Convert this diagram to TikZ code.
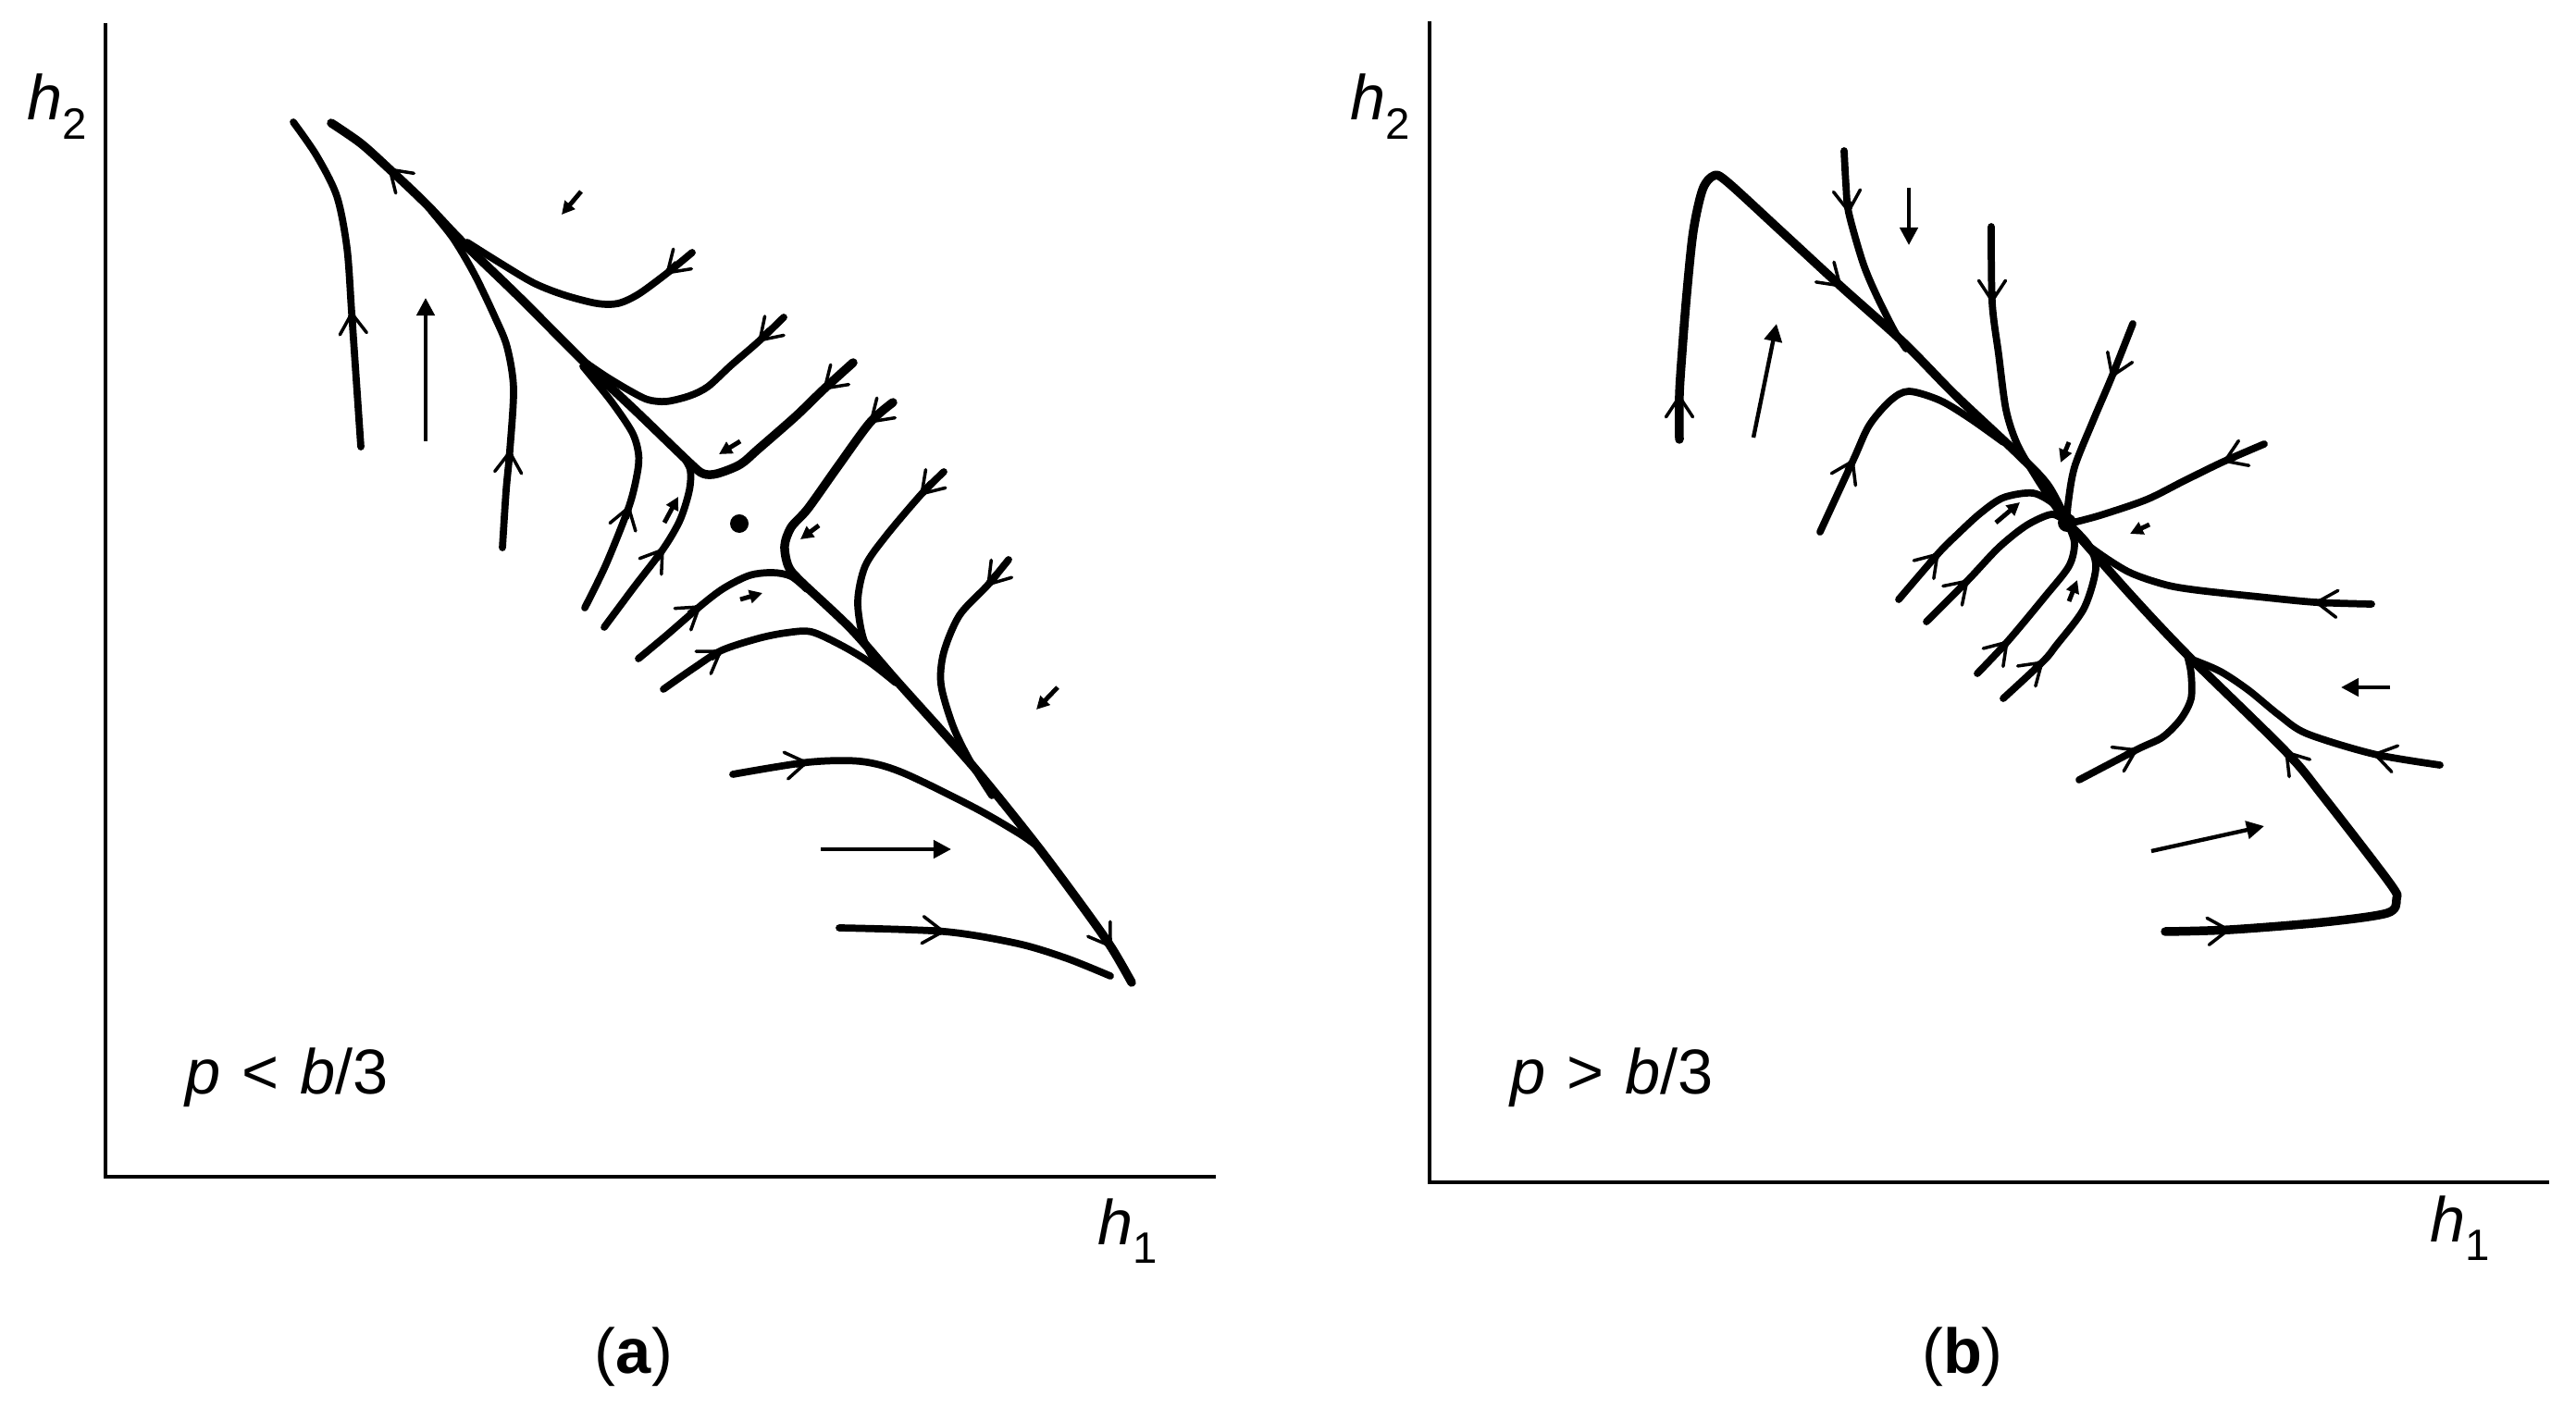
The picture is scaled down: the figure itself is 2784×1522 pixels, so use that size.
\documentclass[tikz,border=0pt]{standalone}
\usepackage{fontspec}
\setmainfont{Liberation Sans}
\usetikzlibrary{arrows.meta}
\newcommand{\lowsub}[1]{\raisebox{-0.3em}{\fontsize{13.5pt}{13.5pt}\selectfont #1}}
\begin{document}
\begin{tikzpicture}[x=0.01cm, y=-0.01cm,
  curve/.style={line width=2.2pt, line cap=round, line join=round},
  thickcurve/.style={curve, line width=2.7pt},
  barb/.style={line width=2.2pt, -{Straight Barb[length=2.2mm,width=2.9mm,line width=1pt,round]}},
  vec/.style={line width=1.25pt, -{Triangle[length=1.9mm,width=1.9mm]}},
  svec/.style={line width=1.4pt, -{Triangle[length=1.4mm,width=1.4mm]}},
  axisline/.style={line width=1pt},
  lab/.style={inner sep=0pt, font=\fontsize{19.5pt}{21pt}\selectfont}]
\useasboundingbox (0,0) rectangle (2784,1522);

% ---------------- panel (a) ----------------
\draw[axisline] (114,25) -- (114,1272) -- (1314,1272);
\node[lab, anchor=base west] (h2a) at (29,130) {\itshape h\lowsub{\upshape 2}};
\node[lab, anchor=base west] (h1a) at (1186,1345) {\itshape h\lowsub{\upshape 1}};
\node[lab, anchor=base west] (conda) at (200,1182) {\itshape p\upshape\hspace{0.33em}<\hspace{0.33em}\itshape b\upshape /3};
\node[lab, anchor=base] (capa) at (685,1484) {(\textbf{a})};

% trajectories
\draw[curve] plot[smooth, tension=0.5] coordinates {(390,483) (385,410) (380,337) (375,268) (364,212) (342,168) (317,132)};
\draw[barb] (381,350) -- (380,337);
\draw[curve] plot[smooth, tension=0.5] coordinates {(543,592) (547,530) (551,487) (555,420) (548,375) (535,343) (513,297) (490,258) (466,228)};
\draw[barb] (550,500) -- (551,487);
\draw[thickcurve] plot[smooth, tension=0.5] coordinates {(922,392) (890,421) (860,450) (820,485) (800,502) (775,512) (760,512) (745,500) (690,447) (633,393) (560,320) (500,262) (460,220) (420,182) (390,155) (358,133)};
\draw[barb] (902,410) -- (890,421);
\draw[barb] (432,193) -- (420,182);
\draw[curve] plot[smooth, tension=0.5] coordinates {(748,273) (720,296) (690,318) (668,328) (645,328) (610,319) (577,306) (540,284) (505,262)};
\draw[barb] (732,285) -- (720,296);
\draw[curve] plot[smooth, tension=0.5] coordinates {(847,343) (820,369) (790,395) (765,418) (745,428) (720,434) (700,432) (680,422) (655,407) (630,390)};
\draw[barb] (832,357) -- (820,369);
\draw[thickcurve] plot[smooth, tension=0.5] coordinates {(965,435) (940,457) (905,505) (873,550) (855,570) (848,590) (852,612) (865,628) (920,680) (970,737) (1053,830) (1120,913) (1170,980) (1201,1024) (1223,1062)};
\draw[barb] (952,446) -- (940,457);
\draw[barb] (1193,1012) -- (1201,1024);
\draw[curve] plot[smooth, tension=0.5] coordinates {(1020,510) (995,535) (957,580) (935,612) (927,650) (933,690) (948,718) (965,735)};
\draw[barb] (1007,522) -- (995,535);
\draw[curve] plot[smooth, tension=0.5] coordinates {(1090,605) (1067,633) (1037,665) (1020,705) (1017,740) (1030,785) (1048,822) (1072,860)};
\draw[barb] (1078,620) -- (1067,633);
\draw[curve] plot[smooth, tension=0.5] coordinates {(690,712) (720,687) (757,655) (782,636) (810,622) (835,619) (855,623) (872,637)};
\draw[barb] (745,664) -- (757,655);
\draw[curve] plot[smooth, tension=0.5] coordinates {(717,745) (750,722) (780,703) (820,690) (850,684) (877,683) (910,698) (940,716) (968,738)};
\draw[barb] (768,711) -- (780,703);
\draw[curve] plot[smooth, tension=0.5] coordinates {(632,657) (655,610) (680,547) (689,510) (690,490) (683,467) (660,433) (630,396)};
\draw[barb] (676,560) -- (680,547);
\draw[curve] plot[smooth, tension=0.5] coordinates {(653,678) (685,635) (717,593) (735,562) (745,530) (746,508) (738,493)};
\draw[barb] (709,604) -- (717,593);
\draw[curve] plot[smooth, tension=0.5] coordinates {(792,837) (873,824) (930,823) (975,835) (1053,873) (1103,902) (1125,918)};
\draw[barb] (860,826) -- (873,824);
\draw[curve] plot[smooth, tension=0.5] coordinates {(907,1003) (1021,1007) (1100,1020) (1153,1036) (1200,1055)};
\draw[barb] (1008,1006) -- (1021,1007);

% direction field arrows
\draw[vec] (460,477) -- (460,322);
\draw[vec] (887,918) -- (1028,918);
\draw[svec] (628,207) -- (607,232);
\draw[svec] (800,477) -- (777,491);
\draw[svec] (885,568) -- (865,583);
\draw[svec] (718,565) -- (733,537);
\draw[svec] (800,648) -- (824,641);
\draw[svec] (1143,743) -- (1120,767);
\fill (799,566) circle (0.1cm);

% ---------------- panel (b) ----------------
\draw[axisline] (1545,23) -- (1545,1278) -- (2755,1278);
\node[lab, anchor=base west] (h2b) at (1459,130) {\itshape h\lowsub{\upshape 2}};
\node[lab, anchor=base west] (h1b) at (2626,1342) {\itshape h\lowsub{\upshape 1}};
\node[lab, anchor=base west] (condb) at (1632,1182) {\itshape p\upshape\hspace{0.33em}>\hspace{0.33em}\itshape b\upshape /3};
\node[lab, anchor=base] (capb) at (2121,1484) {(\textbf{b})};

\draw[thickcurve] plot[smooth, tension=0.5] coordinates {(1815,475) (1815,427) (1818,380) (1823,317) (1830,250) (1840,205) (1852,190) (1866,196) (1925,250) (1990,310) (2057,370) (2113,427) (2180,490) (2213,525) (2234,565)};
\draw[barb] (1815,440) -- (1815,427);
\draw[barb] (1980,301) -- (1990,310);
\draw[thickcurve] plot[smooth, tension=0.5] coordinates {(2340,1007) (2410,1005) (2510,997) (2580,987) (2590,972) (2583,955) (2510,860) (2470,812) (2363,707) (2300,640) (2234,565)};
\draw[barb] (2397,1006) -- (2410,1005);
\draw[barb] (2480,824) -- (2470,812);
\draw[curve] plot[smooth, tension=0.5] coordinates {(1993,163) (1995,200) (1998,230) (2013,283) (2027,317) (2047,357) (2060,377)};
\draw[barb] (1997,218) -- (1998,230);
\draw[curve] plot[smooth, tension=0.5] coordinates {(2152,245) (2153,327) (2160,383) (2168,443) (2180,480) (2200,515) (2228,558)};
\draw[barb] (2153,315) -- (2153,327);
\draw[curve] plot[smooth, tension=0.5] coordinates {(1967,575) (2003,497) (2020,460) (2043,433) (2063,423) (2097,433) (2130,453) (2165,478)};
\draw[barb] (1997,509) -- (2003,497);
\draw[curve] plot[smooth, tension=0.5] coordinates {(2052,648) (2095,598) (2115,578) (2140,555) (2165,538) (2197,533) (2220,545) (2232,560)};
\draw[barb] (2086,608) -- (2095,598);
\draw[curve] plot[smooth, tension=0.5] coordinates {(2082,672) (2127,627) (2160,592) (2190,568) (2217,556) (2232,563)};
\draw[barb] (2118,636) -- (2127,627);
\draw[curve] plot[smooth, tension=0.5] coordinates {(2137,728) (2170,693) (2210,645) (2236,612) (2242,587) (2235,567)};
\draw[barb] (2161,703) -- (2170,693);
\draw[curve] plot[smooth, tension=0.5] coordinates {(2165,755) (2208,715) (2222,698) (2252,658) (2265,615) (2258,590) (2240,570)};
\draw[barb] (2199,723) -- (2208,715);
\draw[curve] plot[smooth, tension=0.5] coordinates {(2305,350) (2282,408) (2262,455) (2242,505) (2235,545) (2234,565)};
\draw[barb] (2287,396) -- (2282,408);
\draw[curve] plot[smooth, tension=0.5] coordinates {(2447,480) (2403,499) (2360,520) (2320,540) (2270,557) (2240,565)};
\draw[barb] (2415,494) -- (2403,499);
\draw[curve] plot[smooth, tension=0.5] coordinates {(2563,653) (2502,651) (2440,645) (2375,638) (2340,632) (2300,618) (2260,592) (2240,572)};
\draw[barb] (2515,652) -- (2502,651);
\draw[curve] plot[smooth, tension=0.5] coordinates {(2637,827) (2565,815) (2493,793) (2463,773) (2430,746) (2400,726) (2372,714)};
\draw[barb] (2578,818) -- (2565,815);
\draw[curve] plot[smooth, tension=0.5] coordinates {(2247,843) (2310,810) (2337,797) (2357,777) (2368,755) (2368,728) (2364,709)};
\draw[barb] (2298,816) -- (2310,810);

\draw[vec] (2063,203) -- (2063,265);
\draw[vec] (1895,473) -- (1920,350);
\draw[vec] (2583,743) -- (2530,743);
\draw[vec] (2325,920) -- (2447,893);
\draw[svec] (2157,565) -- (2183,543);
\draw[svec] (2236,478) -- (2227,500);
\draw[svec] (2323,567) -- (2302,577);
\draw[svec] (2236,650) -- (2245,627);
\fill (2234,565) circle (0.1cm);
\end{tikzpicture}
\end{document}
